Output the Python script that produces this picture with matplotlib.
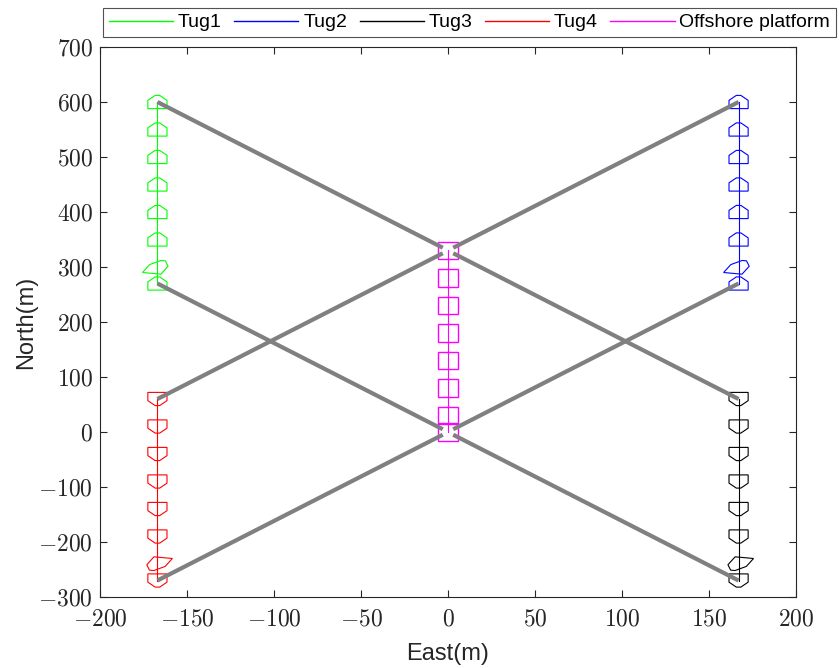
import numpy as np
import matplotlib
matplotlib.use("Agg")
import matplotlib.pyplot as plt
from matplotlib.patches import Polygon
from matplotlib.lines import Line2D
from matplotlib.ticker import FuncFormatter

plt.rcParams['mathtext.fontset'] = 'cm'
plt.rcParams['font.family'] = ['Liberation Sans', 'DejaVu Sans']

# ---------------- data ----------------
tug_names = ["Tug1", "Tug2", "Tug3", "Tug4"]
tug_colors = ["#00ff00", "#0000ff", "#000000", "#ff0000"]
tug_east = [-167, 167, 167, -167]
tug1_north = [600, 550, 500, 450, 400, 350, 300, 270]
tug2_north = [600, 550, 500, 450, 400, 350, 300, 270]
tug3_north = [60, 10, -40, -90, -140, -190, -240, -270]
tug4_north = [60, 10, -40, -90, -140, -190, -240, -270]
tug1_heading = [0, 0, 0, 0, 0, 0, 16, 0]
tug2_heading = [0, 0, 0, 0, 0, 0, 16, 0]
tug3_heading = [180, 180, 180, 180, 180, 180, 196, 180]
tug4_heading = [180, 180, 180, 180, 180, 180, 196, 180]
tug_norths = [tug1_north, tug2_north, tug3_north, tug4_north]
tug_headings = [tug1_heading, tug2_heading, tug3_heading, tug4_heading]

platform_label = "Offshore platform"
platform_color = "#ff00ff"
platform_east = [0, 0, 0, 0, 0, 0, 0, 0]
platform_north = [330, 280, 230, 180, 130, 80, 30, 0]

# tow-line attachment offsets on the platform (east, north) for each tug
attach_offsets = [(-3, 5), (3, 5), (3, -5), (-3, -5)]

# ship outline in body frame (x: starboard, y: bow), metres
tug_shape_x = [-5.5, 5.5, 5.5, 1.3, -1.3, -5.5]
tug_shape_y = [-12, -12, 3, 12, 12, 3]
plat_shape_x = [-6, 6, 6, -6]
plat_shape_y = [-16, -16, 16, 16]

xticks = [-200, -150, -100, -50, 0, 50, 100, 150, 200]
yticks = [-300, -200, -100, 0, 100, 200, 300, 400, 500, 600, 700]


def outline(e0, n0, psi_deg, sx, sy):
    p = np.deg2rad(psi_deg)
    sx = np.asarray(sx, float)
    sy = np.asarray(sy, float)
    e = e0 + sx * np.cos(p) + sy * np.sin(p)
    n = n0 - sx * np.sin(p) + sy * np.cos(p)
    return np.column_stack([e, n])


fig = plt.figure(figsize=(8.39, 6.68), dpi=100)
ax = fig.add_axes([100 / 839, 1 - 597 / 668, 696 / 839, 550 / 668])

handles = []
for name, col, e0, norths, heads in zip(tug_names, tug_colors, tug_east, tug_norths, tug_headings):
    ax.plot([e0] * len(norths), norths, color=col, lw=0.8, zorder=2)
    handles.append(Line2D([], [], color=col, lw=1.0))
    for n0, h in zip(norths, heads):
        ax.add_patch(Polygon(outline(e0, n0, h, tug_shape_x, tug_shape_y), closed=True,
                             fill=False, edgecolor=col, lw=0.8, zorder=2))

ax.plot(platform_east, platform_north, color=platform_color, lw=0.8, zorder=2)
handles.append(Line2D([], [], color=platform_color, lw=1.0))
for e0, n0 in zip(platform_east, platform_north):
    ax.add_patch(Polygon(outline(e0, n0, 0, plat_shape_x, plat_shape_y), closed=True,
                         fill=False, edgecolor=platform_color, lw=1.0, zorder=2))

# tow lines at first and last time step
for k in (0, -1):
    for e0, norths, off in zip(tug_east, tug_norths, attach_offsets):
        ax.plot([e0, platform_east[k] + off[0]], [norths[k], platform_north[k] + off[1]],
                color="#808080", lw=3.0, solid_capstyle='butt', zorder=3)

ax.set_xlim(-200, 200)
ax.set_ylim(-300, 700)
ax.set_xticks(xticks)
ax.set_yticks(yticks)
fmt = FuncFormatter(lambda v, p: r'$%d$' % int(round(v)))
ax.xaxis.set_major_formatter(fmt)
ax.yaxis.set_major_formatter(fmt)
ax.tick_params(direction='in', length=5, width=0.8, colors='#262626', labelsize=17,
               top=True, right=True, pad=5)
ax.tick_params(axis='x', pad=8)
for s in ax.spines.values():
    s.set_color('#262626')
    s.set_linewidth(0.8)

ax.set_xlabel("East(m)", fontsize=17, color='#262626', labelpad=9)
ax.set_ylabel("North(m)", fontsize=17, color='#262626', labelpad=1)

leg = fig.legend(handles, tug_names + [platform_label], loc='upper left',
                 bbox_to_anchor=(103 / 839, 1 - 8 / 668), ncol=5, fontsize=14,
                 frameon=True, fancybox=False, handlelength=3.3, handletextpad=0.25,
                 columnspacing=0.64, borderpad=0.3, borderaxespad=0)
leg.get_frame().set_edgecolor('#262626')
leg.get_frame().set_linewidth(0.8)

fig.savefig("out.png", dpi=100)
